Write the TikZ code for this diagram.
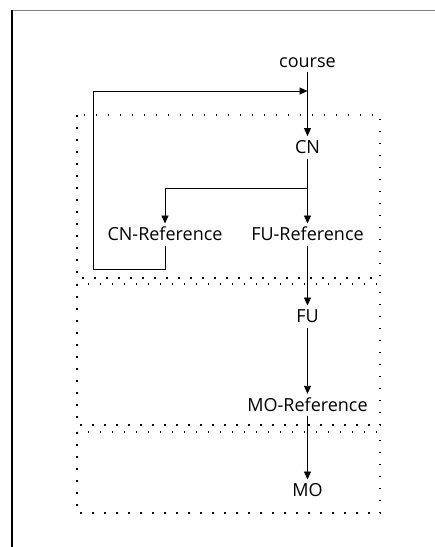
\documentclass[tikz,border=0pt]{standalone}
\usepackage{fontspec}
\setmainfont{Open Sans}
\usetikzlibrary{arrows.meta}
\begin{document}
\begin{tikzpicture}[x=1pt,y=-1pt,
  lbl/.style={font=\fontsize{18}{22}\selectfont, inner xsep=1pt, inner ysep=3pt,
              text height=14pt, text depth=2pt},
  flow/.style={line width=0.9pt, -{Triangle[length=8pt,width=7pt]}},
  zone/.style={line width=1.5pt, dash pattern=on 1.5pt off 10.5pt},
  edge/.style={line width=1pt},
]
\useasboundingbox (0,0) rectangle (435,547);

% page frame
\draw[edge, gray] (12,10) -- (435,10);
\draw[edge, line width=1.3pt] (12,10) -- (12,547);

% dotted zones
\draw[zone] (77,115) rectangle (380,278);
\draw[zone] (77,284) rectangle (380,425);
\draw[zone] (77,432) rectangle (380,513);

% nodes
\node[lbl] (course) at (307.5,61)    {course};
\node[lbl] (cn)     at (307.5,147.3) {CN};
\node[lbl] (cnref)  at (165,234.7)   {CN-Reference};
\node[lbl] (furef)  at (307.5,234.7) {FU-Reference};
\node[lbl] (fu)     at (307.5,316.7) {FU};
\node[lbl] (moref)  at (307.5,405)   {MO-Reference};
\node[lbl] (mo)     at (307.5,490.7) {MO};

% helper points for the branch and the feedback loop
\coordinate (split)  at (307.5,188);
\coordinate (loopbl) at (93,269);
\coordinate (merge)  at (307.5,91);

% connectors
\draw[flow] (course) -- (cn);
\draw[flow] (cn) -- (furef);
\draw[flow] (split) -| (cnref.north);
\draw[flow] (cnref.south) |- (loopbl) |- (merge);
\draw[flow] (furef) -- (fu);
\draw[flow] (fu) -- (moref);
\draw[flow] (moref) -- (mo);
\end{tikzpicture}
\end{document}
